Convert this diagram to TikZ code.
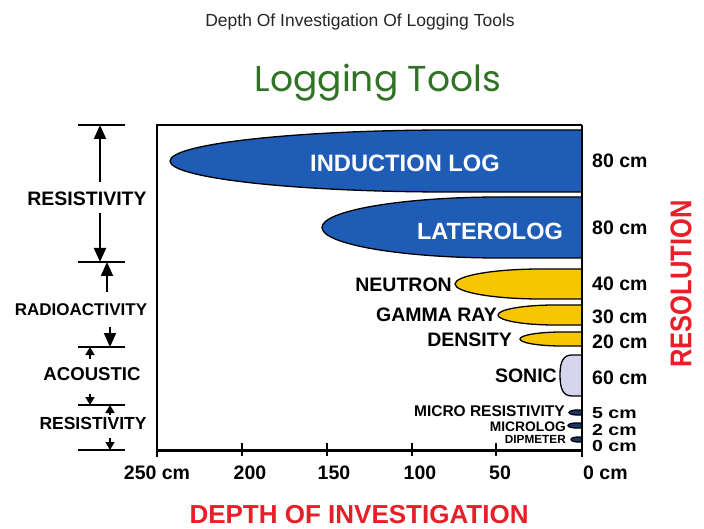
\documentclass[tikz,border=0pt]{standalone}
\usepackage{fontspec}
\setmainfont{Liberation Sans}
\newfontfamily\logofont{Poppins}
\usetikzlibrary{arrows.meta}
\definecolor{toolblue}{RGB}{30,92,182}
\definecolor{toolyellow}{RGB}{248,198,0}
\definecolor{sonicfill}{RGB}{212,212,236}
\definecolor{microblue}{RGB}{25,55,100}
\definecolor{logogreen}{RGB}{48,115,36}
\definecolor{axisred}{RGB}{232,30,40}
\newcommand\myfs[1]{\fontsize{#1}{#1}\selectfont}
% tip x, ellipse centre x, top y, bottom y, fill
\newcommand\lobe[5]{%
  \pgfmathsetmacro\lcy{(#3+#4)/2}%
  \pgfmathsetmacro\lbb{(#4-#3)/2}%
  \pgfmathsetmacro\laa{#2-#1}%
  \draw[shapeline, fill=#5] (582,#3) -- (#2,#3)
    .. controls ({#2-0.5523*\laa},#3) and (#1,{\lcy-0.5523*\lbb}) .. (#1,\lcy)
    .. controls (#1,{\lcy+0.5523*\lbb}) and ({#2-0.5523*\laa},#4) .. (#2,#4)
    -- (582,#4) -- cycle;}
\begin{document}
\begin{tikzpicture}[x=1pt,y=-1pt,
  shapeline/.style={draw=black, line width=1.3pt},
  lbl/.style={inner sep=0pt, font=\bfseries\myfs{19.5}},
  side/.style={inner sep=0pt, font=\bfseries\myfs{#1}},
  bigarrow/.style={line width=2pt, -{Triangle[width=12pt,length=14pt]}},
  smallarrow/.style={line width=1.6pt, -{Triangle[width=9pt,length=8pt]}},
  bar/.style={line width=2pt},
  tick/.style={line width=2pt}]
\useasboundingbox[fill=white] (0,0) rectangle (704,529);

% titles
\node[anchor=base, inner sep=0pt, font=\myfs{17.5}, text=black!85] (title) at (360,27) {Depth Of Investigation Of Logging Tools};
\node[anchor=base, inner sep=0pt, font=\logofont\myfs{36}, text=logogreen] (logo) at (378,92) {Logging Tools};

% tool shapes
\lobe{170}{450}{130}{192}{toolblue}
\lobe{322}{500}{197}{258}{toolblue}
\lobe{455}{541}{269}{299}{toolyellow}
\lobe{498}{555}{305}{325}{toolyellow}
\lobe{520}{562}{332}{346}{toolyellow}
\draw[shapeline, fill=sonicfill] (582,355) -- (572,355)
  .. controls (563,355) and (560,362) .. (560,375)
  .. controls (560,389) and (563,396) .. (572,396) -- (582,396) -- cycle;
\lobe{569}{577}{410}{415}{microblue}
\lobe{568}{576}{423}{428}{microblue}
\lobe{571}{578}{437}{442}{microblue}

% frame and axes
\coordinate (fbl) at (157,457);
\coordinate (ftl) at (157,125);
\coordinate (ftr) at (582,125);
\coordinate (fbr) at (582,457);
\coordinate (xa) at (157,450);
\coordinate (xb) at (582,450);
\draw[line width=2pt] (fbl) -- (ftl) -- (ftr);
\draw[line width=3pt] (xa) -- (xb);
\draw[line width=2.5pt] (ftr) -- (fbr);
\foreach \tx in {242,327,412,496}{\draw[tick] (\tx,443) -- (\tx,456);}

% labels inside shapes
\node[inner sep=0pt, font=\bfseries\myfs{23.7}, text=white] (ind) at (405,163) {INDUCTION LOG};
\node[inner sep=0pt, font=\bfseries\myfs{23.5}, text=white] (lat) at (490,231) {LATEROLOG};
\node[lbl, anchor=east] (neu) at (452,285) {NEUTRON};
\node[lbl, anchor=east] (gam) at (497,315) {GAMMA RAY};
\node[lbl, anchor=east] (den) at (512,340) {DENSITY};
\node[lbl, anchor=east] (son) at (557,376) {SONIC};
\node[side=15.5, anchor=east] (mres) at (565,411.5) {MICRO RESISTIVITY};
\node[side=13.8, anchor=east] (mlog) at (566,427) {MICROLOG};
\node[side=11.8, anchor=east] (dip) at (566,439) {DIPMETER};

% resolution labels
\node[lbl, anchor=west] (r1) at (592,161) {80 cm};
\node[lbl, anchor=west] (r2) at (592,228) {80 cm};
\node[lbl, anchor=west] (r3) at (592,284) {40 cm};
\node[lbl, anchor=west] (r4) at (592,317) {30 cm};
\node[lbl, anchor=west] (r5) at (592,342) {20 cm};
\node[lbl, anchor=west] (r6) at (592,378) {60 cm};
\node[lbl, anchor=west] (r7) at (592,413.5) {\scalebox{1}[0.82]{5 cm}};
\node[lbl, anchor=west] (r8) at (592,429.5) {\scalebox{1}[0.82]{2 cm}};
\node[lbl, anchor=west] (r9) at (592,446) {\scalebox{1}[0.82]{0 cm}};
\node[inner sep=0pt, rotate=90, font=\bfseries\myfs{30}, text=axisred] (resol) at (681,284) {\scalebox{0.85}[1]{RESOLUTION}};

% depth labels
\node[lbl] (d250) at (157,473) {250 cm};
\node[lbl] (d200) at (250,473) {200};
\node[lbl] (d150) at (334,473) {150};
\node[lbl] (d100) at (420,473) {100};
\node[lbl] (d50) at (500,473) {50};
\node[lbl, anchor=west] (d0) at (583,473) {0 cm};
\node[inner sep=0pt, font=\bfseries\myfs{26}, text=axisred] (doi) at (359,515) {DEPTH OF INVESTIGATION};

% left annotations
\foreach \n/\yy in {1/125,2/262,3/347,4/405,5/450}{
  \coordinate (la\n) at (78,\yy); \coordinate (lb\n) at (125,\yy);
  \draw[bar] (la\n) -- (lb\n);}
\node[side=19.5] (res1) at (87,199) {RESISTIVITY};
\node[side=17] (rad) at (81,310) {RADIOACTIVITY};
\node[side=18.6] (aco) at (92,374) {ACOUSTIC};
\node[side=17.5] (res2) at (93,423) {RESISTIVITY};
\coordinate (a1s) at (100,182); \coordinate (a1e) at (100,125);
\coordinate (a2s) at (100,213); \coordinate (a2e) at (100,262);
\coordinate (a3s) at (107,292); \coordinate (a3e) at (107,262);
\coordinate (a4s) at (110,327); \coordinate (a4e) at (110,347);
\coordinate (a5s) at (90,359);  \coordinate (a5e) at (90,347);
\coordinate (a6s) at (90,394);  \coordinate (a6e) at (90,405);
\coordinate (a7s) at (110,415); \coordinate (a7e) at (110,405);
\coordinate (a8s) at (110,438); \coordinate (a8e) at (110,450);
\draw[bigarrow] (a1s) -- (a1e);
\draw[bigarrow] (a2s) -- (a2e);
\draw[bigarrow] (a3s) -- (a3e);
\draw[bigarrow] (a4s) -- (a4e);
\draw[smallarrow] (a5s) -- (a5e);
\draw[smallarrow] (a6s) -- (a6e);
\draw[smallarrow] (a7s) -- (a7e);
\draw[smallarrow] (a8s) -- (a8e);
\end{tikzpicture}
\end{document}
